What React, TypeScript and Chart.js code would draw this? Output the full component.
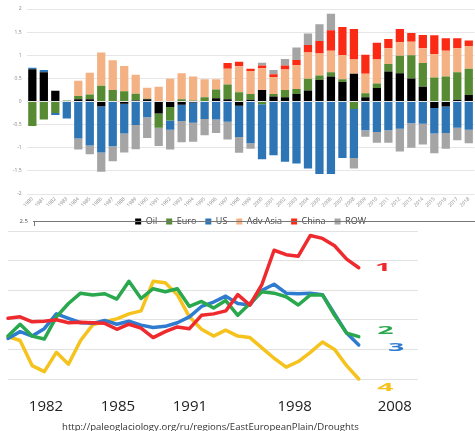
import React, { useEffect, useRef } from "react";
import { Chart, registerables } from "chart.js";
Chart.register(...registerables);

// ---------- Top chart: stacked bars ----------
const years = [
  "1980","1981","1982","1983","1984","1985","1986","1987","1988","1989",
  "1990","1991","1992","1993","1994","1995","1996","1997","1998","1999",
  "2000","2001","2002","2003","2004","2005","2006","2007","2008","2009",
  "2010","2011","2012","2013","2014","2015","2016","2017","2018",
];
const oil = [0.70,0.63,0.23,0.0,0.05,0.05,-0.10,0.01,-0.05,0.02,0.05,-0.26,-0.12,-0.07,-0.02,0.0,0.07,0.05,-0.09,0.04,0.25,0.11,0.09,0.16,0.24,0.47,0.54,0.42,0.60,0.09,0.29,0.65,0.61,0.50,0.32,-0.14,-0.11,0.04,0.14];
const euro = [-0.53,-0.39,-0.25,0.02,0.07,0.10,0.34,0.24,0.22,0.15,0.01,-0.31,-0.29,0.05,0.02,0.09,0.19,0.32,0.20,0.12,-0.06,0.05,0.16,0.11,0.25,0.09,0.09,0.06,-0.16,0.09,0.10,0.16,0.38,0.50,0.51,0.52,0.54,0.59,0.57];
const us = [0.03,0.05,-0.04,-0.37,-0.80,-0.95,-1.00,-0.97,-0.64,-0.51,-0.34,0.0,-0.20,-0.35,-0.44,-0.38,-0.39,-0.44,-0.68,-0.90,-1.19,-1.16,-1.30,-1.34,-1.45,-1.57,-1.57,-1.22,-1.06,-0.62,-0.66,-0.62,-0.59,-0.47,-0.48,-0.55,-0.57,-0.57,-0.61];
const advAsia = [0,0,0,0,0.33,0.47,0.72,0.64,0.55,0.41,0.24,0.32,0.49,0.56,0.52,0.39,0.22,0.34,0.56,0.50,0.47,0.37,0.44,0.52,0.57,0.48,0.47,0.52,0.31,0.42,0.52,0.34,0.29,0.29,0.32,0.50,0.56,0.52,0.49];
const china = [0,0,0,0,0,0,0,0,0,0,0,0,0,0,0,0,0,0.12,0.10,0.05,0.06,0.06,0.09,0.11,0.16,0.27,0.44,0.61,0.66,0.41,0.36,0.20,0.29,0.19,0.29,0.41,0.27,0.22,0.12];
const row = [0,0,0,0,-0.24,-0.19,-0.42,-0.32,-0.41,-0.52,-0.45,-0.39,-0.43,-0.46,-0.41,-0.35,-0.29,-0.38,-0.34,-0.12,0.06,0.09,0.14,0.27,0.25,0.36,0.36,0,-0.23,-0.14,-0.23,-0.27,-0.49,-0.53,-0.45,-0.43,-0.34,-0.27,-0.29];
const seriesNames = ["Oil", "Euro", "US", "Adv Asia", "China", "ROW"];
const seriesColors = ["#000000", "#568a33", "#2e75b6", "#f4b183", "#fb2a14", "#a5a5a5"];

// ---------- Bottom chart: drought lines ----------
const lineRed = [2.05,2.1,1.93,1.95,2.0,1.9,1.92,1.9,1.88,1.68,1.85,1.72,1.4,1.6,1.76,1.7,2.15,2.2,2.3,2.85,2.5,3.2,4.35,4.2,4.15,4.85,4.75,4.5,4.05,3.76];
const lineGreen = [1.45,1.85,1.45,1.35,2.1,2.55,2.9,2.84,2.88,2.7,3.3,2.72,3.05,2.95,3.05,2.45,2.62,2.4,2.65,2.15,2.55,2.95,2.9,2.78,2.5,2.84,2.84,2.15,1.55,1.43];
const lineBlue = [1.37,1.6,1.45,1.7,2.2,2.05,1.9,1.88,1.98,1.85,1.95,1.82,1.74,1.78,1.9,2.1,2.45,2.6,2.8,2.55,2.5,3.0,3.2,2.9,2.88,2.9,2.85,2.2,1.55,1.15];
const lineYellow = [1.43,1.3,0.45,0.25,0.9,0.5,1.3,1.83,1.94,2.03,2.2,2.3,3.3,3.25,2.85,2.1,1.68,1.45,1.65,1.45,1.4,1.05,0.7,0.4,0.59,0.9,1.25,1.0,0.45,0.0];
const lineColors = ["#ee2a2e", "#2aa84e", "#2f7bd0", "#f5c21e"];
const lineTags = ["1", "2", "3", "4"];
const tagX = [31.0, 31.2, 32.1, 31.2];
const tagY = [3.75, 1.62, 1.05, -0.3];
const bottomTickPos = [3.14, 9.09, 15.04, 23.7, 31.98];
const bottomTickLabels = ["1982", "1985", "1991", "1998", "2008"];
const sourceText = "http://paleoglaciology.org/ru/regions/EastEuropeanPlain/Droughts";

function TopChart() {
  const ref = useRef<HTMLCanvasElement>(null);
  useEffect(() => {
    const values = [oil, euro, us, advAsia, china, row];
    const chart = new Chart(ref.current!, {
      type: "bar",
      data: {
        labels: years,
        datasets: values.map((v, i) => ({
          label: seriesNames[i],
          data: v,
          backgroundColor: seriesColors[i],
          borderWidth: 0,
          barPercentage: 0.72,
          categoryPercentage: 1,
        })),
      },
      options: {
        responsive: false,
        animation: false,
        layout: { padding: { left: 8, right: 0, top: 9, bottom: 0 } },
        plugins: {
          legend: {
            position: "bottom",
            fullSize: false,
            labels: {
              boxWidth: 6,
              boxHeight: 6,
              padding: 9,
              color: "#444",
              font: { size: 9, family: "Open Sans" },
            },
          },
          tooltip: { enabled: false },
        },
        scales: {
          x: {
            stacked: true,
            grid: { display: false, drawTicks: false },
            border: { display: false },
            afterFit: (axis: any) => {
              axis.height = 14;
            },
            ticks: {
              autoSkip: false,
              minRotation: 45,
              maxRotation: 45,
              padding: 2,
              color: "#888",
              font: { size: 5, family: "Open Sans" },
            },
          },
          y: {
            stacked: true,
            min: -2,
            max: 2,
            grid: { color: "#e6e6e6", drawTicks: false },
            border: { display: false },
            afterFit: (axis: any) => {
              axis.width = 18.6;
            },
            ticks: {
              stepSize: 0.5,
              padding: 5,
              color: "#888",
              font: { size: 5, family: "Open Sans" },
              callback: (v: any) => String(v),
            },
          },
        },
      },
    });
    return () => chart.destroy();
  }, []);
  return <canvas ref={ref} width={475} height={236} style={{ position: "absolute", left: 0, top: 0 }} />;
}

function BottomChart() {
  const ref = useRef<HTMLCanvasElement>(null);
  useEffect(() => {
    const lines = [lineRed, lineGreen, lineBlue, lineYellow];
    const decor = {
      id: "decor",
      afterDraw(c: any) {
        const ctx = c.ctx;
        const area = c.chartArea;
        const y = area.top - 10;
        ctx.save();
        ctx.strokeStyle = "#777";
        ctx.lineWidth = 1;
        ctx.beginPath();
        ctx.moveTo(33, y + 0.5);
        ctx.lineTo(475, y + 0.5);
        ctx.moveTo(34.5, y);
        ctx.lineTo(34.5, y + 5);
        ctx.stroke();
        ctx.fillStyle = "#555";
        ctx.font = "6px 'Open Sans'";
        ctx.textAlign = "right";
        ctx.textBaseline = "middle";
        ctx.fillText("2.5", 28, y);
        ctx.restore();
      },
      afterDatasetsDraw(c: any) {
        const ctx = c.ctx;
        const sx = c.scales.x;
        const sy = c.scales.y;
        ctx.save();
        ctx.font = "bold 15px 'Open Sans'";
        ctx.textAlign = "center";
        ctx.textBaseline = "middle";
        lineTags.forEach((t, i) => {
          ctx.save();
          ctx.translate(sx.getPixelForValue(tagX[i]), sy.getPixelForValue(tagY[i]));
          ctx.scale(1.9, 0.7);
          ctx.fillStyle = lineColors[i];
          ctx.fillText(t, 0, 0);
          ctx.restore();
        });
        ctx.restore();
      },
    };
    const chart = new Chart(ref.current!, {
      type: "line",
      data: {
        datasets: lines.map((v, i) => ({
          label: lineTags[i],
          data: v.map((y, j) => ({ x: j, y })),
          borderColor: lineColors[i],
          borderWidth: 3.5,
          pointRadius: 0,
          tension: 0,
          borderJoinStyle: "round",
          borderCapStyle: "round",
          clip: false,
        })),
      },
      options: {
        responsive: false,
        animation: false,
        layout: { padding: { left: 8, right: 57, top: 19, bottom: 12 } },
        plugins: { legend: { display: false }, tooltip: { enabled: false } },
        scales: {
          x: {
            type: "linear",
            min: 0,
            max: 33.9,
            grid: { display: false, drawTicks: false },
            border: { display: false },
            afterBuildTicks: (axis: any) => {
              axis.ticks = bottomTickPos.map((v) => ({ value: v }));
            },
            afterFit: (axis: any) => {
              axis.height = 40;
            },
            ticks: {
              padding: 19,
              color: "#222",
              font: { size: 15, family: "Open Sans" },
              maxRotation: 0,
              autoSkip: false,
              callback: (_v: any, idx: number) => bottomTickLabels[idx],
            },
          },
          y: {
            min: 0,
            max: 5,
            grid: { color: "#e2e2e2", drawTicks: false },
            border: { display: false },
            afterFit: (axis: any) => {
              axis.width = 0;
            },
            ticks: { display: false, stepSize: 1 },
          },
        },
      },
      plugins: [decor],
    });
    return () => chart.destroy();
  }, []);
  return <canvas ref={ref} width={475} height={219} style={{ position: "absolute", left: 0, top: 212 }} />;
}

export default function App() {
  return (
    <div style={{ position: "absolute", left: 0, top: 0, width: 475, height: 431, background: "#fff", overflow: "hidden" }}>
      <TopChart />
      <BottomChart />
      <div
        style={{
          position: "absolute",
          left: 62,
          top: 420,
          fontFamily: "'Open Sans', sans-serif",
          fontSize: "9.6px",
          color: "#333",
          whiteSpace: "nowrap",
          lineHeight: "13px",
        }}
      >
        {sourceText}
      </div>
    </div>
  );
}
